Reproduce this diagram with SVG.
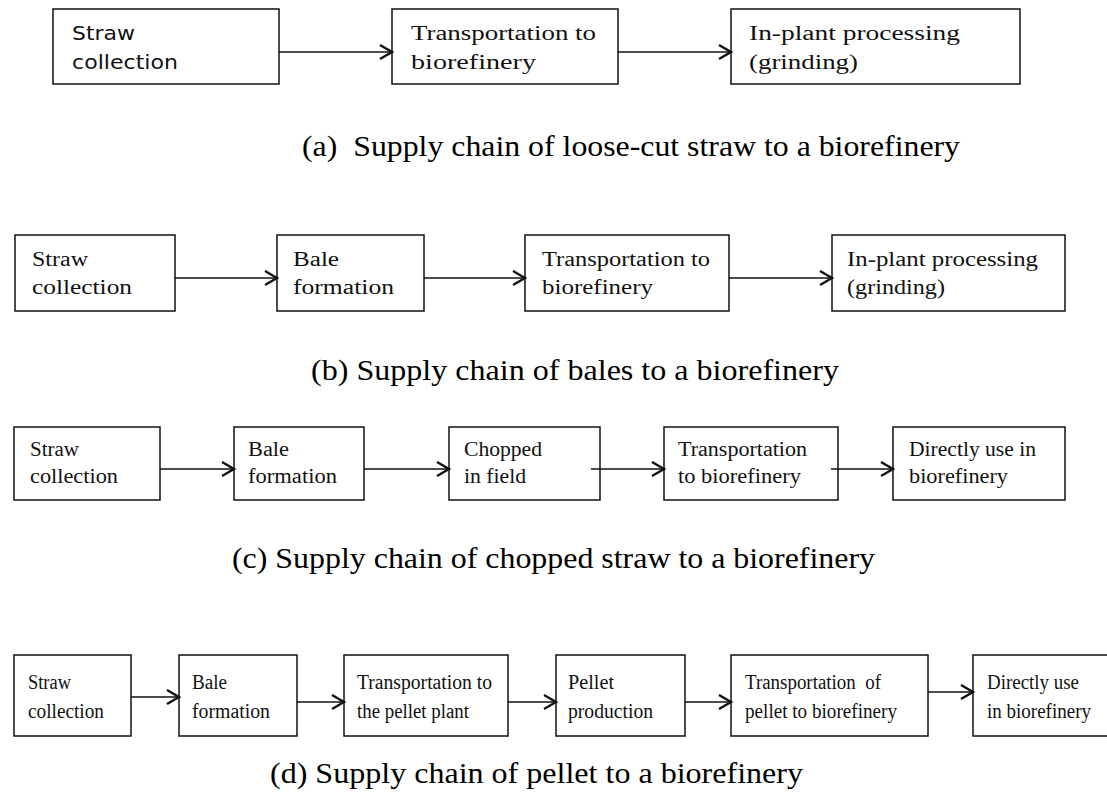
<svg xmlns="http://www.w3.org/2000/svg" width="1107" height="794" viewBox="0 0 1107 794">
<style>
.box{fill:#fff;stroke:#111;stroke-width:1.5}
.t{font-family:"Liberation Serif","Times New Roman",serif;font-size:20px;fill:#111}
.s{font-family:"DejaVu Sans","Liberation Sans",sans-serif;font-size:19px;fill:#111}
.cap{font-family:"Liberation Serif","Times New Roman",serif;font-size:30px;fill:#000}
.conn line{stroke:#111;stroke-width:1.6;marker-end:url(#chev)}
</style>
<defs>
<marker id="chev" markerUnits="userSpaceOnUse" markerWidth="16" markerHeight="18" refX="13" refY="8" orient="auto">
<path d="M1,1 L13,8 L1,15" fill="none" stroke="#111" stroke-width="2.4"/>
</marker>
</defs>
<rect width="1107" height="794" fill="#fff"/>

<!-- Row a -->
<g id="a1"><rect class="box" x="53" y="9" width="226" height="75"/>
<text class="s" x="72" y="40" textLength="63" lengthAdjust="spacingAndGlyphs">Straw</text>
<text class="s" x="72" y="69" textLength="106" lengthAdjust="spacingAndGlyphs">collection</text></g>
<g id="a2"><rect class="box" x="392" y="9" width="226" height="75"/>
<text class="t" x="411" y="40" textLength="185" lengthAdjust="spacingAndGlyphs">Transportation to</text>
<text class="t" x="411" y="69" textLength="125" lengthAdjust="spacingAndGlyphs">biorefinery</text></g>
<g id="a3"><rect class="box" x="731" y="9" width="289" height="75"/>
<text class="t" x="749" y="40" textLength="211" lengthAdjust="spacingAndGlyphs">In-plant processing</text>
<text class="t" x="749" y="69" textLength="109" lengthAdjust="spacingAndGlyphs">(grinding)</text></g>
<text class="cap" x="302" y="156" textLength="658" lengthAdjust="spacingAndGlyphs" xml:space="preserve">(a)  Supply chain of loose-cut straw to a biorefinery</text>

<!-- Row b -->
<g id="b1"><rect class="box" x="15" y="235" width="160" height="76"/>
<text class="t" x="32" y="266" textLength="56" lengthAdjust="spacingAndGlyphs">Straw</text>
<text class="t" x="32" y="294" textLength="100" lengthAdjust="spacingAndGlyphs">collection</text></g>
<g id="b2"><rect class="box" x="277" y="235" width="147" height="76"/>
<text class="t" x="293" y="266" textLength="46" lengthAdjust="spacingAndGlyphs">Bale</text>
<text class="t" x="293" y="294" textLength="101" lengthAdjust="spacingAndGlyphs">formation</text></g>
<g id="b3"><rect class="box" x="525" y="235" width="204" height="76"/>
<text class="t" x="542" y="266" textLength="168" lengthAdjust="spacingAndGlyphs">Transportation to</text>
<text class="t" x="542" y="294" textLength="111" lengthAdjust="spacingAndGlyphs">biorefinery</text></g>
<g id="b4"><rect class="box" x="832" y="235" width="233" height="76"/>
<text class="t" x="847" y="266" textLength="191" lengthAdjust="spacingAndGlyphs">In-plant processing</text>
<text class="t" x="847" y="294" textLength="98" lengthAdjust="spacingAndGlyphs">(grinding)</text></g>
<text class="cap" x="311" y="380" textLength="528" lengthAdjust="spacingAndGlyphs">(b) Supply chain of bales to a biorefinery</text>

<!-- Row c -->
<g id="c1"><rect class="box" x="14" y="427" width="146" height="73"/>
<text class="t" x="30" y="456" textLength="49" lengthAdjust="spacingAndGlyphs">Straw</text>
<text class="t" x="30" y="483" textLength="88" lengthAdjust="spacingAndGlyphs">collection</text></g>
<g id="c2"><rect class="box" x="234" y="427" width="130" height="73"/>
<text class="t" x="248" y="456" textLength="41" lengthAdjust="spacingAndGlyphs">Bale</text>
<text class="t" x="248" y="483" textLength="89" lengthAdjust="spacingAndGlyphs">formation</text></g>
<g id="c3"><rect class="box" x="449" y="427" width="151" height="73"/>
<text class="t" x="464" y="456" textLength="78" lengthAdjust="spacingAndGlyphs">Chopped</text>
<text class="t" x="464" y="483" textLength="62" lengthAdjust="spacingAndGlyphs">in field</text></g>
<g id="c4"><rect class="box" x="664" y="427" width="174" height="73"/>
<text class="t" x="678" y="456" textLength="129" lengthAdjust="spacingAndGlyphs">Transportation</text>
<text class="t" x="678" y="483" textLength="123" lengthAdjust="spacingAndGlyphs">to biorefinery</text></g>
<g id="c5"><rect class="box" x="893" y="427" width="172" height="73"/>
<text class="t" x="909" y="456" textLength="127" lengthAdjust="spacingAndGlyphs">Directly use in</text>
<text class="t" x="909" y="483" textLength="99" lengthAdjust="spacingAndGlyphs">biorefinery</text></g>
<text class="cap" x="232" y="568" textLength="643" lengthAdjust="spacingAndGlyphs">(c) Supply chain of chopped straw to a biorefinery</text>

<!-- Row d -->
<g id="d1"><rect class="box" x="14" y="655" width="117" height="81"/>
<text class="t" x="28" y="689" textLength="43" lengthAdjust="spacingAndGlyphs">Straw</text>
<text class="t" x="28" y="718" textLength="76" lengthAdjust="spacingAndGlyphs">collection</text></g>
<g id="d2"><rect class="box" x="179" y="655" width="118" height="81"/>
<text class="t" x="192" y="689" textLength="35" lengthAdjust="spacingAndGlyphs">Bale</text>
<text class="t" x="192" y="718" textLength="78" lengthAdjust="spacingAndGlyphs">formation</text></g>
<g id="d3"><rect class="box" x="344" y="655" width="164" height="81"/>
<text class="t" x="357" y="689" textLength="135" lengthAdjust="spacingAndGlyphs">Transportation to</text>
<text class="t" x="357" y="718" textLength="112" lengthAdjust="spacingAndGlyphs">the pellet plant</text></g>
<g id="d4"><rect class="box" x="556" y="655" width="129" height="81"/>
<text class="t" x="568" y="689" textLength="46" lengthAdjust="spacingAndGlyphs">Pellet</text>
<text class="t" x="568" y="718" textLength="85" lengthAdjust="spacingAndGlyphs">production</text></g>
<g id="d5"><rect class="box" x="731" y="655" width="197" height="81"/>
<text class="t" x="745" y="689" textLength="136" lengthAdjust="spacingAndGlyphs" xml:space="preserve">Transportation  of</text>
<text class="t" x="745" y="718" textLength="152" lengthAdjust="spacingAndGlyphs">pellet to biorefinery</text></g>
<g id="d6"><rect class="box" x="973" y="655" width="145" height="81"/>
<text class="t" x="987" y="689" textLength="92" lengthAdjust="spacingAndGlyphs">Directly use</text>
<text class="t" x="987" y="718" textLength="104" lengthAdjust="spacingAndGlyphs">in biorefinery</text></g>
<text class="cap" x="270" y="783" textLength="533" lengthAdjust="spacingAndGlyphs">(d) Supply chain of pellet to a biorefinery</text>

<g id="connectors" class="conn">
<line x1="279" y1="52" x2="392" y2="52"/>
<line x1="618" y1="52" x2="731" y2="52"/>
<line x1="175" y1="278" x2="277" y2="278"/>
<line x1="424" y1="278" x2="525" y2="278"/>
<line x1="729" y1="278" x2="832" y2="278"/>
<line x1="160" y1="469" x2="234" y2="469"/>
<line x1="364" y1="469" x2="449" y2="469"/>
<line x1="591" y1="469" x2="664" y2="469"/>
<line x1="831" y1="469" x2="893" y2="469"/>
<line x1="131" y1="697" x2="179" y2="697"/>
<line x1="297" y1="702" x2="344" y2="702"/>
<line x1="508" y1="702" x2="556" y2="702"/>
<line x1="685" y1="702" x2="731" y2="702"/>
<line x1="928" y1="692" x2="973" y2="692"/>
</g>
</svg>
